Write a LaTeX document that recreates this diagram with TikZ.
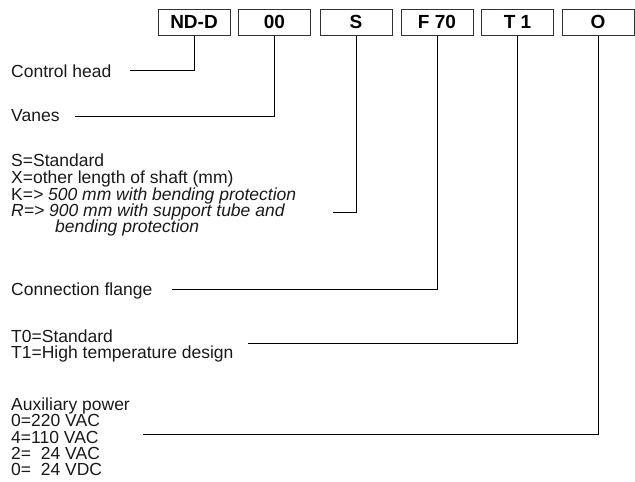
\documentclass[tikz,border=0pt]{standalone}
\usepackage{fontspec}
\setmainfont{Liberation Sans}
\begin{document}
\begin{tikzpicture}[x=1pt,y=-1pt,
  lbl/.style={anchor=base west, inner sep=0pt, text=black!90, font=\fontsize{17.5}{16}\selectfont},
  code/.style={draw=black!80, line width=0.9pt, minimum width=72pt, minimum height=25.5pt, inner sep=0pt, font=\fontsize{19}{20}\selectfont\bfseries},
  wire/.style={line width=0.8pt}]
\useasboundingbox (0,0) rectangle (635,482);
% code boxes
\node[code] (b1) at (194,22.3) {ND-D};
\node[code] (b2) at (274.5,22.3) {00};
\node[code] (b3) at (356,22.3) {S};
\node[code] (b4) at (437,22.3) {F 70};
\node[code] (b5) at (517.5,22.3) {T 1};
\node[code] (b6) at (598,22.3) {O};
% labels
\node[lbl] (ch) at (11,77) {Control head};
\node[lbl] (va) at (11,121.5) {Vanes};
\node[lbl] (s1) at (11,166.7) {S=Standard};
\node[lbl] (s2) at (11,183.3) {X=other length of shaft (mm)};
\node[lbl] (s3) at (11,200) {K=\textit{> 500 mm with bending protection}};
\node[lbl] (s4) at (11,216) {\textit{R=> 900 mm with support tube and}};
\node[lbl] (s5) at (55,232) {\textit{bending protection}};
\node[lbl] (cf) at (11,295) {Connection flange};
\node[lbl] (t0) at (11,342) {T0=Standard};
\node[lbl] (t1) at (11,358) {T1=High temperature design};
\node[lbl] (a0) at (11,410) {Auxiliary power};
\node[lbl] (a1) at (11,426.5) {0=220 VAC};
\node[lbl] (a2) at (11,443) {4=110 VAC};
\node[lbl] (a3) at (11,459) {2=\hphantom{2}24 VAC};
\node[lbl] (a4) at (11,475) {0=\hphantom{2}24 VDC};
% connector ends
\coordinate (e1) at (130,70);
\coordinate (e2) at (75,116.7);
\coordinate (e3) at (333,212);
\coordinate (e4) at (172,289);
\coordinate (e5) at (248,343.3);
\coordinate (e6) at (143,434.5);
\draw[wire] (b1.south) |- (e1);
\draw[wire] (b2.south) |- (e2);
\draw[wire] (b3.south) |- (e3);
\draw[wire] (b4.south) |- (e4);
\draw[wire] (b5.south) |- (e5);
\draw[wire] (b6.south) |- (e6);
\end{tikzpicture}
\end{document}
